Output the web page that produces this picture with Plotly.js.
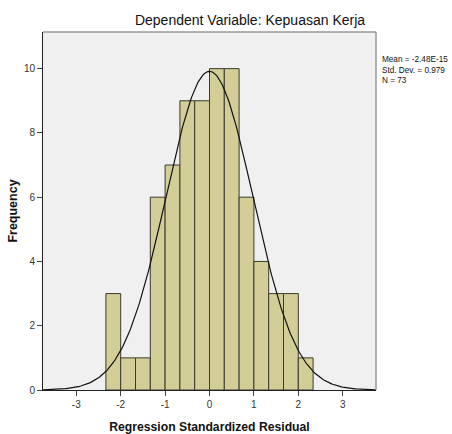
<!DOCTYPE html>
<html>
<head>
<meta charset="utf-8">
<script src="https://cdn.plot.ly/plotly-3.0.1.min.js"></script>
<style>html,body{margin:0;padding:0;background:#fff;}#chart{width:452px;height:434px;}</style>
</head>
<body>
<div id="chart"></div>
<script>
// Histogram data (Regression Standardized Residual)
const binStart = -7 / 3;
const binWidth = 1 / 3;
const counts = [3, 1, 1, 6, 7, 9, 9, 10, 10, 6, 4, 3, 3, 1];
// Summary statistics
const statMean = -2.48e-15;
const statSD = 0.979;
const statN = 73;
const xTicks = [-3, -2, -1, 0, 1, 2, 3];
const yTicks = [0, 2, 4, 6, 8, 10];

const centers = counts.map((c, i) => binStart + binWidth * (i + 0.5));

// Fitted normal curve from displayed mean / SD / N
const cx = [], cy = [];
for (let i = 0; i <= 300; i++) {
  const x = -3.75 + 7.5 * i / 300;
  const z = (x - statMean) / statSD;
  cx.push(x);
  cy.push(statN * binWidth * Math.exp(-0.5 * z * z) / (statSD * Math.sqrt(2 * Math.PI)));
}

const font = 'Liberation Sans, Arial, sans-serif';
const data = [
  {
    type: 'bar', x: centers, y: counts, width: binWidth,
    marker: {color: '#d3ce97', line: {color: '#3a3a2e', width: 1}},
    hoverinfo: 'skip'
  },
  {
    type: 'scatter', mode: 'lines', x: cx, y: cy,
    line: {color: '#111', width: 1.2}, hoverinfo: 'skip'
  }
];
const layout = {
  width: 452, height: 434,
  margin: {l: 43, r: 76, t: 32, b: 44, pad: 0},
  paper_bgcolor: '#fff', plot_bgcolor: '#f0f0f0',
  showlegend: false, bargap: 0,
  font: {family: font, size: 10, color: '#333'},
  title: {text: 'Dependent Variable: Kepuasan Kerja', font: {family: font, size: 14, color: '#111'},
          x: 250 / 452, xanchor: 'center', y: 1 - 20 / 434, yanchor: 'middle'},
  xaxis: {
    range: [-3.75, 3.75], tickvals: xTicks, ticktext: xTicks.map(String),
    ticks: 'outside', ticklen: 5, tickcolor: '#444', tickwidth: 1,
    showgrid: false, zeroline: false, showline: true, linecolor: '#222', linewidth: 1,
    mirror: false, tickfont: {size: 10, color: '#333'},
    title: {text: 'Regression Standardized Residual', font: {family: font, size: 12.2, color: '#111', weight: 'bold'}, standoff: 13}
  },
  yaxis: {
    range: [0, 11.14], tickvals: yTicks, ticktext: yTicks.map(String),
    ticks: 'outside', ticklen: 5, tickcolor: '#444', tickwidth: 1,
    showgrid: false, zeroline: false, showline: true, linecolor: '#222', linewidth: 1,
    tickfont: {size: 10, color: '#333'},
    title: {text: 'Frequency', font: {family: font, size: 12.5, color: '#111', weight: 'bold'}, standoff: 3}
  },
  shapes: [
    {type: 'line', xref: 'paper', yref: 'paper', x0: 0, x1: 1, y0: 1, y1: 1, line: {color: '#999', width: 1.5}},
    {type: 'line', xref: 'paper', yref: 'paper', x0: 1, x1: 1, y0: 0, y1: 1, line: {color: '#999', width: 1.5}}
  ],
  annotations: [{
    xref: 'paper', yref: 'paper', x: 1, y: 1 - 21 / 358, xanchor: 'left', yanchor: 'top', xshift: 4,
    align: 'left', showarrow: false,
    text: 'Mean = ' + statMean.toExponential(2).toUpperCase() + '<br>Std. Dev. = ' + statSD + '<br>N = ' + statN,
    font: {family: font, size: 8.2, color: '#111'}
  }]
};
Plotly.newPlot('chart', data, layout, {displayModeBar: false, staticPlot: true});
</script>
</body>
</html>
